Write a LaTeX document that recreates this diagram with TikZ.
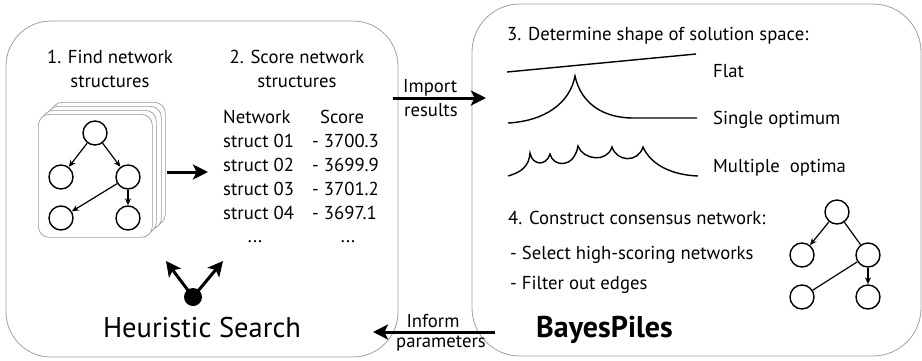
\documentclass[tikz,border=0pt]{standalone}
\usepackage{fontspec}
\setmainfont{PT Sans}
\usetikzlibrary{arrows.meta}
\begin{document}
\begin{tikzpicture}[x=1pt,y=-1pt,
  panel/.style={draw=gray!75, line width=0.8pt, rounded corners=45pt},
  card/.style={draw=gray!80, line width=0.7pt, fill=white, rounded corners=11pt, minimum width=114pt, minimum height=123pt, anchor=north west, inner sep=0pt},
  nd/.style={circle, draw=black, line width=1.4pt, minimum size=24pt, inner sep=0pt},
  edge/.style={line width=1.2pt, -{Stealth[length=7pt,width=6pt]}},
  plainedge/.style={line width=1.2pt},
  big/.style={line width=3pt, -{Stealth[length=15pt,width=15pt,inset=3.5pt]}},
  txt/.style={inner sep=0pt, font=\fontsize{18.7}{22}\selectfont},
  curve/.style={line width=1.4pt}
]
\useasboundingbox (0,0) rectangle (922,360);

% panels
\draw[panel] (6,21) rectangle (398,357);
\draw[panel, rounded corners=48pt] (472,4) rectangle (921,356);

% left panel headings
\node[txt, anchor=base] (h1a) at (110,63) {1. Find network};
\node[txt, anchor=base] (h1b) at (110,87) {structures};
\node[txt, anchor=base] (h2a) at (297,63) {2. Score network};
\node[txt, anchor=base] (h2b) at (297,87) {structures};

% card stack
\node[card] (card3) at (51,102) {};
\node[card] (card2) at (47,106) {};
\node[card] (card1) at (42,110) {};
\node[card] (card0) at (38,114) {};

% left network
\node[nd] (la) at (95,133) {};
\node[nd] (lb) at (61,177) {};
\node[nd] (lc) at (128,177) {};
\node[nd] (ld) at (61,218) {};
\node[nd] (le) at (128,218) {};
\draw[edge] (la) -- (lb);
\draw[edge] (la) -- (lc);
\draw[edge] (lc) -- (ld);
\draw[edge] (lc) -- (le);

% arrow to table
\coordinate (s1) at (167,172);
\coordinate (s2) at (208,172);
\draw[big] (s1) -- (s2);

% table
\node[txt, anchor=base west] (tn) at (223,123) {Network};
\node[txt, anchor=base west] (ts) at (320,123) {Score};
\node[txt, anchor=base west] (r1) at (223,147) {struct 01};
\node[txt, anchor=base west] (v1) at (312,147) {- 3700.3};
\node[txt, anchor=base west] (r2) at (223,171) {struct 02};
\node[txt, anchor=base west] (v2) at (312,171) {- 3699.9};
\node[txt, anchor=base west] (r3) at (223,195) {struct 03};
\node[txt, anchor=base west] (v3) at (312,195) {- 3701.2};
\node[txt, anchor=base west] (r4) at (223,219) {struct 04};
\node[txt, anchor=base west] (v4) at (312,219) {- 3697.1};
\node[txt, anchor=base] (d1) at (255,242) {...};
\node[txt, anchor=base] (d2) at (348,242) {...};

% heuristic search
\node[circle, fill=black, minimum size=18pt, inner sep=0pt] (dot) at (193,297) {};
\coordinate (hl) at (166,261);
\coordinate (hr) at (223,261);
\draw[big] (dot.center) -- (hl);
\draw[big] (dot.center) -- (hr);
\node[inner sep=0pt, anchor=base, font=\fontsize{28.5}{32}\selectfont] (hs) at (202,337) {Heuristic Search};

% import / inform arrows
\coordinate (i1) at (393,98);
\coordinate (i2) at (486,98);
\draw[big] (i1) -- (i2);
\node[txt, anchor=base west] (imp) at (403,92) {Import};
\node[txt, anchor=base west] (res) at (404,116) {results};
\coordinate (f1) at (495,332);
\coordinate (f2) at (373,332);
\draw[big] (f1) -- (f2);
\node[txt, anchor=base] (inf) at (433,327) {Inform};
\node[txt, anchor=base] (par) at (441,347) {parameters};

% right panel
\node[txt, anchor=base west] (h3) at (507,40) {3. Determine shape of solution space:};
\draw[curve] (507,72) -- (696,54);
\node[txt, anchor=base west] (flat) at (713,77) {Flat};
\draw[curve] (508,123) .. controls (545,121) and (570,103) .. (575,76)
  .. controls (581,104) and (604,118) .. (633,118) -- (697,118);
\node[txt, anchor=base west] (single) at (713,124) {Single optimum};
\draw[curve] (508,176) .. controls (522,172) and (529,166) .. (530,153)
  .. controls (532,165) and (546,167) .. (550,154)
  .. controls (553,167) and (574,169) .. (578,146)
  .. controls (583,160) and (607,163) .. (612,147)
  .. controls (617,162) and (638,163) .. (643,147)
  .. controls (651,165) and (672,175) .. (698,176);
\node[txt, anchor=base west] (multi) at (713,172) {Multiple\ \ optima};

\node[txt, anchor=base west] (h4) at (508,224) {4. Construct consensus network:};
\node[txt, anchor=base west] (sel) at (510,259) {- Select high-scoring networks};
\node[txt, anchor=base west] (fil) at (510,289) {- Filter out edges};
\node[inner sep=0pt, anchor=base west, font=\fontsize{30}{34}\selectfont\bfseries] (bp) at (536,337) {BayesPiles};

% right network
\node[nd] (ra) at (837,212) {};
\node[nd] (rb) at (802,255) {};
\node[nd] (rc) at (868,255) {};
\node[nd] (rd) at (802,297) {};
\node[nd] (re) at (868,297) {};
\draw[edge] (ra) -- (rb);
\draw[plainedge] (ra) -- (rc);
\draw[plainedge] (rc) -- (rd);
\draw[edge] (rc) -- (re);
\end{tikzpicture}
\end{document}
